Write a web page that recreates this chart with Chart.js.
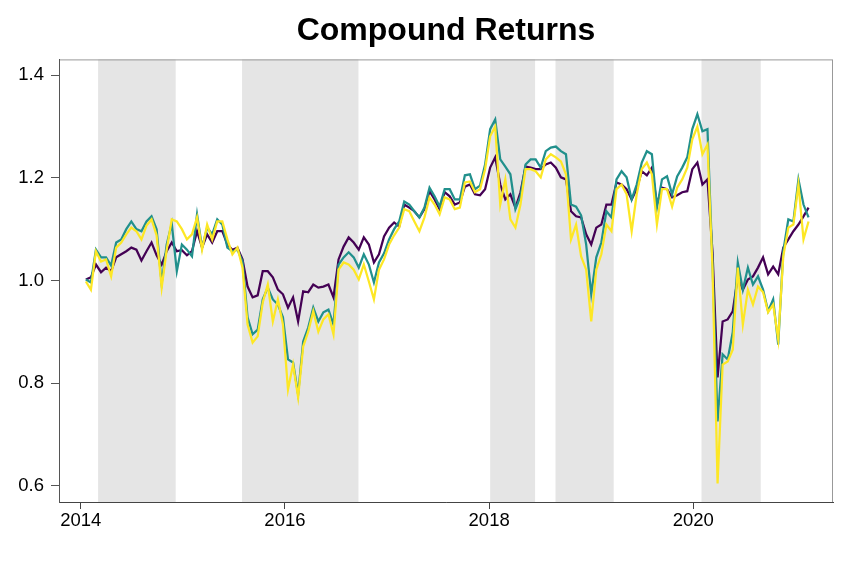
<!DOCTYPE html>
<html>
<head>
<meta charset="utf-8">
<script src="https://cdn.jsdelivr.net/npm/chart.js"></script>
<style>
  html, body { margin: 0; padding: 0; background: #fff; }
  #wrap { width: 864px; height: 576px; }
</style>
</head>
<body>
<div id="wrap"><canvas id="returnsChart"></canvas></div>
<script>
// sample dates, roughly every 18 days, as decimal years
const firstDate = 2014.05;
const dateStep = 0.0495;
const sampleCount = 144;
const dates = Array.from({ length: sampleCount }, (_, i) => +(firstDate + i * dateStep).toFixed(4));

const purpleSeries = [
  1.002, 1.006, 1.031, 1.016, 1.025, 1.018, 1.045, 1.051, 1.057, 1.064,
  1.060, 1.039, 1.057, 1.074, 1.049, 1.031, 1.057, 1.074, 1.057, 1.059,
  1.049, 1.057, 1.096, 1.064, 1.090, 1.074, 1.096, 1.096, 1.070, 1.060,
  1.064, 1.041, 0.988, 0.967, 0.971, 1.018, 1.018, 1.006, 0.982, 0.973,
  0.947, 0.967, 0.920, 0.979, 0.977, 0.992, 0.986, 0.988, 0.992, 0.967,
  1.041, 1.066, 1.084, 1.074, 1.060, 1.084, 1.070, 1.035, 1.051, 1.086,
  1.103, 1.113, 1.105, 1.148, 1.142, 1.135, 1.123, 1.139, 1.174, 1.158,
  1.139, 1.172, 1.164, 1.148, 1.152, 1.183, 1.187, 1.168, 1.166, 1.178,
  1.220, 1.240, 1.187, 1.158, 1.168, 1.142, 1.172, 1.222, 1.220, 1.217,
  1.217, 1.226, 1.230, 1.220, 1.201, 1.197, 1.135, 1.125, 1.123, 1.090,
  1.070, 1.103, 1.109, 1.148, 1.148, 1.191, 1.187, 1.178, 1.158, 1.178,
  1.213, 1.205, 1.220, 1.148, 1.181, 1.178, 1.162, 1.166, 1.172, 1.174,
  1.217, 1.230, 1.187, 1.197, 1.055, 0.811, 0.920, 0.924, 0.940, 1.006,
  0.982, 1.002, 1.008, 1.025, 1.045, 1.012, 1.027, 1.012, 1.064, 1.080,
  1.096, 1.109, 1.125, 1.142
];

const tealSeries = [
  1.002, 0.996, 1.060, 1.045, 1.045, 1.029, 1.074, 1.080, 1.100, 1.115,
  1.100, 1.096, 1.115, 1.125, 1.100, 0.994, 1.070, 1.111, 1.018, 1.070,
  1.060, 1.047, 1.129, 1.064, 1.103, 1.090, 1.119, 1.109, 1.064, 1.057,
  1.060, 1.037, 0.928, 0.895, 0.904, 0.963, 0.986, 0.963, 0.953, 0.928,
  0.846, 0.840, 0.778, 0.881, 0.908, 0.947, 0.920, 0.938, 0.943, 0.914,
  1.031, 1.045, 1.055, 1.045, 1.025, 1.051, 1.031, 0.996, 1.035, 1.053,
  1.080, 1.100, 1.115, 1.154, 1.148, 1.135, 1.123, 1.142, 1.181, 1.164,
  1.144, 1.178, 1.178, 1.158, 1.158, 1.205, 1.207, 1.178, 1.185, 1.226,
  1.295, 1.314, 1.236, 1.222, 1.207, 1.139, 1.164, 1.226, 1.236, 1.236,
  1.220, 1.252, 1.259, 1.261, 1.252, 1.246, 1.148, 1.144, 1.127, 1.070,
  0.973, 1.045, 1.074, 1.135, 1.123, 1.197, 1.213, 1.201, 1.158, 1.187,
  1.230, 1.252, 1.246, 1.142, 1.197, 1.203, 1.168, 1.203, 1.220, 1.240,
  1.295, 1.324, 1.291, 1.295, 1.031, 0.725, 0.856, 0.846, 0.899, 1.035,
  0.982, 1.025, 0.992, 1.008, 0.982, 0.940, 0.963, 0.875, 1.057, 1.119,
  1.115, 1.197, 1.148, 1.123
];

const yellowSeries = [
  0.998, 0.982, 1.057, 1.037, 1.041, 1.008, 1.064, 1.074, 1.090, 1.103,
  1.096, 1.080, 1.107, 1.119, 1.088, 0.986, 1.060, 1.119, 1.115, 1.100,
  1.080, 1.090, 1.123, 1.060, 1.109, 1.080, 1.115, 1.115, 1.080, 1.051,
  1.064, 1.025, 0.914, 0.879, 0.891, 0.957, 0.992, 0.920, 0.963, 0.914,
  0.787, 0.836, 0.772, 0.871, 0.900, 0.940, 0.900, 0.924, 0.934, 0.895,
  1.021, 1.035, 1.031, 1.021, 1.002, 1.031, 0.998, 0.963, 1.021, 1.041,
  1.070, 1.088, 1.103, 1.139, 1.135, 1.115, 1.096, 1.123, 1.162, 1.148,
  1.129, 1.162, 1.158, 1.139, 1.142, 1.191, 1.193, 1.172, 1.178, 1.217,
  1.281, 1.300, 1.148, 1.197, 1.119, 1.103, 1.148, 1.217, 1.217, 1.213,
  1.201, 1.236, 1.246, 1.240, 1.232, 1.207, 1.080, 1.109, 1.047, 1.021,
  0.920, 1.021, 1.051, 1.109, 1.096, 1.178, 1.187, 1.168, 1.096, 1.168,
  1.217, 1.230, 1.207, 1.109, 1.178, 1.178, 1.144, 1.181, 1.197, 1.220,
  1.275, 1.300, 1.246, 1.265, 1.021, 0.604, 0.836, 0.842, 0.865, 1.025,
  0.914, 0.982, 0.953, 0.988, 0.977, 0.938, 0.953, 0.885, 1.047, 1.103,
  1.109, 1.187, 1.080, 1.115
];

// shaded periods [start, end] in decimal years
const shadedPeriods = [
  [2014.17, 2014.93],
  [2015.58, 2016.72],
  [2018.01, 2018.45],
  [2018.65, 2019.22],
  [2020.08, 2020.66]
];

const xTicks = [2014, 2016, 2018, 2020];
const yTicks = [0.6, 0.8, 1.0, 1.2, 1.4];

const toPoints = (vals) => vals.map((v, i) => ({ x: dates[i], y: v }));

const shadingPlugin = {
  id: "shading",
  beforeDraw(chart) {
    const { ctx, chartArea, scales } = chart;
    ctx.save();
    ctx.fillStyle = "#e5e5e5";
    shadedPeriods.forEach(([a, b]) => {
      const x1 = scales.x.getPixelForValue(a);
      const x2 = scales.x.getPixelForValue(b);
      ctx.fillRect(x1, chartArea.top, x2 - x1, chartArea.bottom - chartArea.top);
    });
    // light box around plot
    ctx.strokeStyle = "#999";
    ctx.lineWidth = 1;
    ctx.strokeRect(chartArea.left + 0.5, chartArea.top + 0.5,
      chartArea.right - chartArea.left - 1, chartArea.bottom - chartArea.top);
    ctx.restore();
  },
};

const lineDefaults = { pointRadius: 0, borderWidth: 2.25, tension: 0, fill: false };
const tickFont = { family: "'Liberation Sans', Arial, sans-serif", size: 18.5 };

new Chart(document.getElementById("returnsChart"), {
  type: "line",
  data: {
    datasets: [
      { ...lineDefaults, label: "Series 1", data: toPoints(purpleSeries), borderColor: "#440154", order: 3 },
      { ...lineDefaults, label: "Series 2", data: toPoints(tealSeries), borderColor: "#21908C", order: 2 },
      { ...lineDefaults, label: "Series 3", data: toPoints(yellowSeries), borderColor: "#FDE725", order: 1 },
    ],
  },
  options: {
    responsive: true,
    maintainAspectRatio: false,
    animation: false,
    layout: { padding: { top: 0, right: 31, bottom: 0, left: 0 } },
    plugins: {
      legend: { display: false },
      tooltip: { enabled: false },
      title: {
        display: true,
        text: "Compound Returns",
        fullSize: false,
        color: "#000",
        font: { family: "'Liberation Sans', Arial, sans-serif", size: 32, weight: "bold" },
        padding: { top: 12, bottom: 9 },
      },
    },
    scales: {
      x: {
        type: "linear",
        min: 2013.787,
        max: 2021.368,
        afterBuildTicks: (scale) => { scale.ticks = xTicks.map((v) => ({ value: v })); },
        afterFit: (scale) => { scale.height = 74; },
        ticks: {
          color: "#000",
          padding: 1,
          maxRotation: 0,
          font: tickFont,
          callback: (v) => String(v),
        },
        grid: { drawOnChartArea: false, drawTicks: true, tickLength: 7, color: "#444" },
        border: { display: true, color: "#444", width: 1 },
      },
      y: {
        min: 0.568,
        max: 1.431,
        afterBuildTicks: (scale) => { scale.ticks = yTicks.map((v) => ({ value: v })); },
        afterFit: (scale) => { scale.width = 59; },
        ticks: {
          color: "#000",
          padding: 7,
          font: tickFont,
          callback: (v) => Number(v).toFixed(1),
        },
        grid: { drawOnChartArea: false, drawTicks: true, tickLength: 8, color: "#555" },
        border: { display: true, color: "#555", width: 1 },
      },
    },
  },
  plugins: [shadingPlugin],
});
</script>
</body>
</html>
